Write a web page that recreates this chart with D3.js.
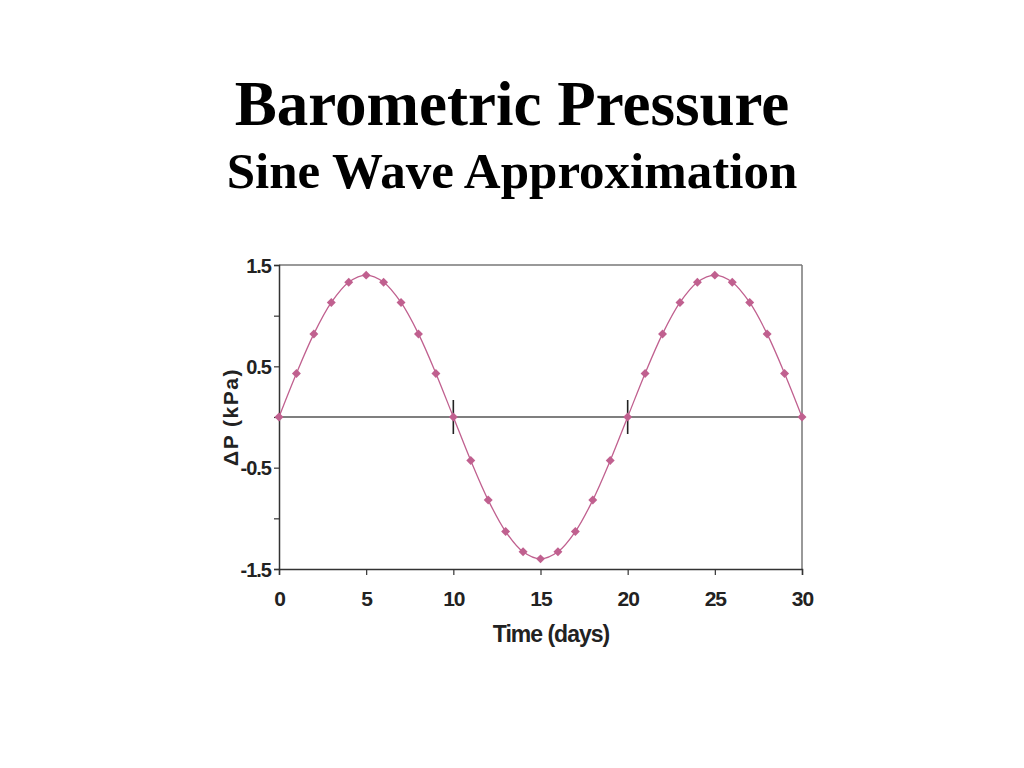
<!DOCTYPE html>
<html><head><meta charset="utf-8">
<script src="https://cdn.jsdelivr.net/npm/d3@7/dist/d3.min.js"></script>
<style>body{margin:0;background:#fff}</style>
</head><body>
<script>
const days = [0,1,2,3,4,5,6,7,8,9,10,11,12,13,14,15,16,17,18,19,20,21,22,23,24,25,26,27,28,29,30];
const pressure = [0,0.43,0.82,1.13,1.33,1.40,1.33,1.13,0.82,0.43,0,-0.43,-0.82,-1.13,-1.33,-1.40,-1.33,-1.13,-0.82,-0.43,0,0.43,0.82,1.13,1.33,1.40,1.33,1.13,0.82,0.43,0];
const xTicks = [0,5,10,15,20,25,30];
const yLabelTicks = [1.5,0.5,-0.5,-1.5];
const yAllTicks = [1.5,1.0,0.5,0,-0.5,-1.0,-1.5];
const markedDays = [10,20];

const W=1024,H=768;
const svg=d3.select("body").append("svg").attr("width",W).attr("height",H);
const L=279,R=802,T=265,B=569;
const x=d3.scaleLinear().domain([0,30]).range([L,R]);
const y=d3.scaleLinear().domain([-1.5,1.5]).range([B,T]);

svg.append("text").attr("x",512).attr("y",125).attr("text-anchor","middle")
  .attr("font-family","Liberation Serif, Times New Roman, serif").attr("font-weight","bold")
  .attr("font-size",63).text("Barometric Pressure");
svg.append("text").attr("x",512).attr("y",188).attr("text-anchor","middle")
  .attr("font-family","Liberation Serif, Times New Roman, serif").attr("font-weight","bold")
  .attr("font-size",51).text("Sine Wave Approximation");

// frame top/right
svg.append("line").attr("x1",L).attr("x2",R).attr("y1",T).attr("y2",T).attr("stroke","#777").attr("stroke-width",1.5);
svg.append("line").attr("x1",R).attr("x2",R).attr("y1",T).attr("y2",B).attr("stroke","#777").attr("stroke-width",1.5);

// zero line
svg.append("line").attr("x1",L).attr("x2",R).attr("y1",y(0)).attr("y2",y(0)).attr("stroke","#555").attr("stroke-width",1.3);
// markers at 10,20
svg.selectAll(".mk").data(markedDays).enter().append("line")
  .attr("x1",d=>x(d)).attr("x2",d=>x(d)).attr("y1",y(0)-17).attr("y2",y(0)+17)
  .attr("stroke","#222").attr("stroke-width",1.6);

const fontAx="Liberation Sans, Arial, sans-serif";
const fmt=d=>d3.format(".1f")(d).replace("\u2212","-");
// y axis
const ya=svg.append("g").attr("transform",`translate(${L},0)`)
  .call(d3.axisLeft(y).tickValues(yAllTicks).tickSize(5).tickFormat(d=>yLabelTicks.includes(d)?fmt(d):""));
ya.select(".domain").attr("stroke","#333").attr("stroke-width",1.5);
ya.selectAll(".tick line").attr("stroke","#333").attr("stroke-width",1.2);
ya.selectAll("text").attr("font-family",fontAx).attr("font-weight","bold").attr("font-size",20)
  .attr("fill","#222").attr("letter-spacing",-1).attr("x",-8).attr("dy","0.35em");
// x axis
const xa=svg.append("g").attr("transform",`translate(0,${B})`)
  .call(d3.axisBottom(x).tickValues(xTicks).tickSize(6));
xa.select(".domain").attr("stroke","#333").attr("stroke-width",1.5);
xa.selectAll(".tick line").attr("stroke","#333").attr("stroke-width",1.2);
xa.selectAll("text").attr("font-family",fontAx).attr("font-weight","bold").attr("font-size",21)
  .attr("fill","#222").attr("letter-spacing",-1).attr("y",22).attr("dy","0.71em");

svg.append("text").attr("x",551).attr("y",642).attr("text-anchor","middle")
  .attr("font-family",fontAx).attr("font-weight","bold").attr("font-size",23).attr("letter-spacing",-1)
  .attr("fill","#222").text("Time (days)");
svg.append("text").attr("transform",`translate(238,${y(0)}) rotate(-90)`).attr("text-anchor","middle")
  .attr("font-family",fontAx).attr("font-weight","bold").attr("font-size",21).attr("letter-spacing",1.5)
  .attr("fill","#222").text("ΔP (kPa)");

const col="#c0608f";
const line=d3.line().x((d,i)=>x(days[i])).y(d=>y(d)).curve(d3.curveCatmullRom);
svg.append("path").datum(pressure).attr("d",line).attr("fill","none").attr("stroke",col).attr("stroke-width",1.3);
const sym=d3.symbol().type(d3.symbolSquare).size(40);
svg.selectAll(".pt").data(pressure).enter().append("path")
  .attr("transform",(d,i)=>`translate(${x(days[i])},${y(d)}) rotate(45)`).attr("d",sym).attr("fill",col);
</script>
</body></html>
